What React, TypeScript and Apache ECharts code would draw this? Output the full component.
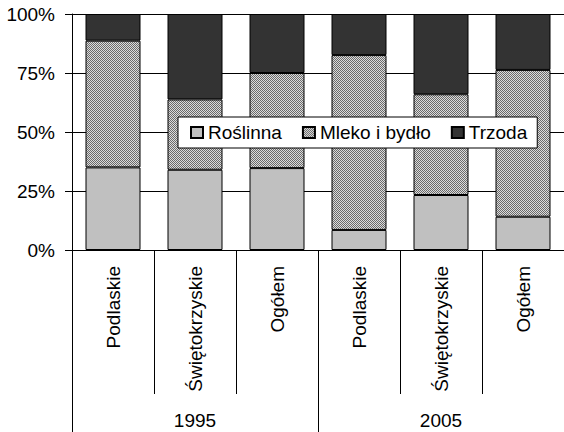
import React, { useEffect, useRef } from "react";
import * as echarts from "echarts";

const categories = ["Podlaskie", "Świętokrzyskie", "Ogółem", "Podlaskie", "Świętokrzyskie", "Ogółem"];
const groups = ["1995", "2005"];
const seriesNames = ["Roślinna", "Mleko i bydło", "Trzoda"];
const roslinna = [35.0, 34.0, 34.7, 8.5, 23.3, 14.1];
const mleko = [53.7, 29.8, 40.3, 74.1, 42.7, 62.2];
const trzoda = [11.3, 36.2, 25.0, 17.4, 34.0, 23.7];
const yTicks = [0, 25, 50, 75, 100];

const FONT = "'Liberation Sans', Arial, sans-serif";
const FS = 19;

function makePattern() {
  const c = document.createElement("canvas");
  c.width = 2;
  c.height = 2;
  const ctx = c.getContext("2d")!;
  ctx.fillStyle = "#dcdcdc";
  ctx.fillRect(0, 0, 2, 2);
  ctx.fillStyle = "#6a6a6a";
  ctx.fillRect(0, 0, 1, 1);
  ctx.fillRect(1, 1, 1, 1);
  return { image: c, repeat: "repeat" } as any;
}

export default function App() {
  const ref = useRef<HTMLDivElement>(null);
  useEffect(() => {
    document.body.style.margin = "0";
    const chart = echarts.init(ref.current!, undefined, { renderer: "svg" });
    const pattern = makePattern();
    const colors = ["#c0c0c0", pattern, "#333333"];
    const values = [roslinna, mleko, trzoda];
    chart.setOption({
      animation: false,
      textStyle: { fontFamily: FONT },
      grid: { left: 72, top: 14, width: 498, height: 236, containLabel: false },
      legend: {
        left: 178,
        top: 117,
        orient: "horizontal",
        backgroundColor: "#fff",
        borderColor: "#000",
        borderWidth: 1,
        borderRadius: 0,
        padding: [6, 10, 6, 12],
        itemWidth: 12,
        itemHeight: 11,
        itemGap: 20,
        icon: "rect",
        textStyle: { fontSize: FS, color: "#000", fontFamily: FONT },
        data: seriesNames,
      },
      xAxis: [
        {
          type: "category",
          data: categories,
          position: "bottom",
          axisLine: { show: true, lineStyle: { color: "#000", width: 1 } },
          axisTick: { show: true, length: 144, lineStyle: { color: "#000", width: 1 } },
          axisLabel: { rotate: 90, margin: 16, fontSize: FS, color: "#000", interval: 0, fontFamily: FONT },
          splitLine: { show: false },
        },
        {
          type: "category",
          data: groups,
          position: "bottom",
          axisLine: { show: false },
          axisTick: { show: true, length: 182, lineStyle: { color: "#000", width: 1 } },
          axisLabel: { margin: 161, fontSize: FS, color: "#000", fontFamily: FONT },
          splitLine: { show: false },
        },
      ],
      yAxis: {
        type: "value",
        min: yTicks[0],
        max: yTicks[yTicks.length - 1],
        interval: 25,
        axisLine: { show: true, lineStyle: { color: "#000", width: 1 } },
        axisTick: { show: true, length: 7, lineStyle: { color: "#000" } },
        axisLabel: { formatter: "{value}%", margin: 17, fontSize: FS, color: "#000", fontFamily: FONT },
        splitLine: { show: true, lineStyle: { color: "#000", width: 1 } },
      },
      series: seriesNames.map((name, i) => ({
        name,
        type: "bar",
        stack: "total",
        xAxisIndex: 0,
        barWidth: 55,
        data: values[i],
        itemStyle: { color: colors[i], borderColor: "#000", borderWidth: 1 },
      })),
    });
    return () => chart.dispose();
  }, []);
  return <div ref={ref} style={{ width: 564, height: 432 }} />;
}
